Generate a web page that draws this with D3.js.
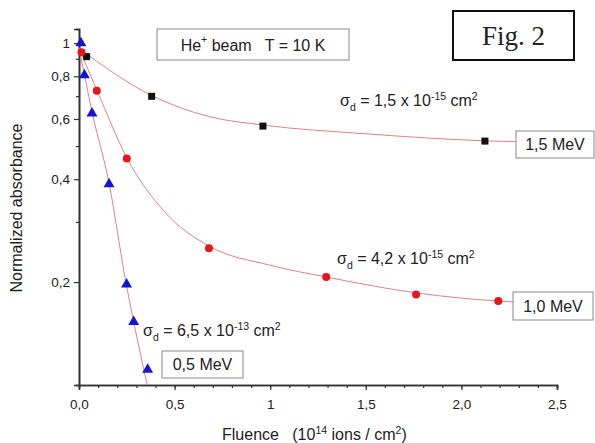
<!DOCTYPE html>
<html>
<head>
<meta charset="utf-8">
<script src="https://cdn.jsdelivr.net/npm/d3@7"></script>
<style>
  body { margin: 0; background: #fff; }
  text { font-family: "Liberation Sans", Arial, sans-serif; fill: #222; white-space: pre; }
</style>
</head>
<body>
<div id="chart"></div>
<script>
// data: [fluence (1e14 ions/cm2), normalized absorbance]
const pts15 = [[0.04, 0.913], [0.38, 0.699], [0.962, 0.572], [2.123, 0.517]];
const pts10 = [[0.013, 0.94], [0.093, 0.726], [0.25, 0.46], [0.68, 0.251], [1.293, 0.207], [1.763, 0.184], [2.193, 0.176]];
const pts05 = [[0.01, 1.0], [0.028, 0.807], [0.068, 0.623], [0.157, 0.387], [0.249, 0.197], [0.286, 0.153], [0.359, 0.111]];

// fitted curves as drawn in the figure
const fit15 = [[0.0, 0.965], [0.38, 0.703], [0.68, 0.61], [0.962, 0.576], [1.5, 0.543], [2.123, 0.518], [2.285, 0.515]];
const fit10 = [[0.0, 0.965], [0.093, 0.73], [0.25, 0.462], [0.45, 0.32], [0.68, 0.255], [1.0, 0.224], [1.293, 0.207], [1.763, 0.186], [2.193, 0.176], [2.27, 0.175]];
const fit05 = [[0.0, 0.97], [0.028, 0.81], [0.068, 0.63], [0.157, 0.39], [0.245, 0.2], [0.286, 0.153], [0.357, 0.1]];

const yMajor = [0.2, 0.4, 0.6, 0.8, 1];
const yMinor = [0.3, 0.5, 0.7, 0.9];
const xMajor = [0, 0.5, 1.0, 1.5, 2.0, 2.5];

const margin = { top: 29, right: 38, bottom: 58, left: 79 };
const width = 595 - margin.left - margin.right;
const height = 443 - margin.top - margin.bottom;

const svg = d3.select("#chart").append("svg")
  .attr("width", 595).attr("height", 443);

const chart = svg.append("g")
  .attr("transform", "translate(" + margin.left + "," + margin.top + ")");

const x = d3.scaleLinear().domain([0, 2.5]).range([0, width]);
const y = d3.scaleLog().domain([0.1, 1.1]).range([height, 0]);
const fmt = (d) => (d === 1 ? "1" : d3.format(".1f")(d).replace(".", ","));

svg.append("clipPath").attr("id", "clip")
  .append("rect").attr("width", width).attr("height", height);

// axes
const xAxis = chart.append("g").attr("transform", "translate(0," + height + ")");
xAxis.call(d3.axisBottom(x).tickValues(d3.range(0, 2.51, 0.1)).tickSize(3).tickFormat(""));
const xMaj = chart.append("g").attr("transform", "translate(0," + height + ")")
  .call(d3.axisBottom(x).tickValues(xMajor).tickSize(5).tickPadding(9).tickFormat(fmt));

const yAxis = chart.append("g")
  .call(d3.axisLeft(y).tickValues(yMinor).tickSize(3).tickFormat(""));
const yMaj = chart.append("g")
  .call(d3.axisLeft(y).tickValues(yMajor).tickSize(5).tickPadding(4).tickFormat(fmt));

[xAxis, xMaj, yAxis, yMaj].forEach((g) => {
  g.select(".domain").attr("stroke", "#333").attr("stroke-width", 1.6);
  g.selectAll(".tick line").attr("stroke", "#333").attr("stroke-width", 1.2);
  g.selectAll("text").style("font-size", "13.5px").attr("fill", "#222")
    .style("font-family", "Liberation Sans, Arial, sans-serif");
});

// fit lines
const line = d3.line().x((d) => x(d[0])).y((d) => y(d[1])).curve(d3.curveMonotoneX);
chart.append("g").attr("clip-path", "url(#clip)")
  .selectAll("path").data([fit15, fit10, fit05]).join("path")
  .attr("d", line)
  .attr("fill", "none")
  .attr("stroke", "#e88080")
  .attr("stroke-width", 1);

// markers
chart.selectAll(".sq").data(pts15).join("rect").attr("class", "sq")
  .attr("x", (d) => x(d[0]) - 3.5).attr("y", (d) => y(d[1]) - 3.5)
  .attr("width", 7).attr("height", 7).attr("fill", "#111");

chart.selectAll(".ci").data(pts10).join("circle").attr("class", "ci")
  .attr("cx", (d) => x(d[0])).attr("cy", (d) => y(d[1]))
  .attr("r", 4).attr("fill", "#e8161c");

const tri = d3.symbol().type(d3.symbolTriangle).size(52);
chart.selectAll(".tr").data(pts05).join("path").attr("class", "tr")
  .attr("transform", (d) => "translate(" + x(d[0]) + "," + y(d[1]) + ")")
  .attr("d", tri).attr("fill", "#1414d4");

// axis titles
svg.append("text")
  .attr("transform", "translate(22,208) rotate(-90)")
  .attr("text-anchor", "middle")
  .style("font-size", "16px")
  .text("Normalized absorbance");

const xt = svg.append("text").attr("x", 222).attr("y", 440).style("font-size", "16px");
xt.append("tspan").text("Fluence   (10");
xt.append("tspan").attr("dy", -6).style("font-size", "10.5px").text("14");
xt.append("tspan").attr("dy", 6).text(" ions / cm");
xt.append("tspan").attr("dy", -6).style("font-size", "10.5px").text("2");
xt.append("tspan").attr("dy", 6).text(")");

// sigma annotations
function sigma(x0, y0, mant, expo) {
  const t = svg.append("text").attr("x", x0).attr("y", y0).style("font-size", "16px");
  t.append("tspan").text("σ");
  t.append("tspan").attr("dy", 5).style("font-size", "10.5px").text("d");
  t.append("tspan").attr("dy", -5).text(" = " + mant + " x 10");
  t.append("tspan").attr("dy", -6).style("font-size", "10.5px").text(expo);
  t.append("tspan").attr("dy", 6).text(" cm");
  t.append("tspan").attr("dy", -6).style("font-size", "10.5px").text("2");
}
sigma(340, 106, "1,5", "-15");
sigma(337, 264, "4,2", "-15");
sigma(143, 336, "6,5", "-13");

// boxed labels
function box(x0, y0, w, h, label, size, color, sw, family) {
  svg.append("rect").attr("x", x0).attr("y", y0).attr("width", w).attr("height", h)
    .attr("fill", "#fff").attr("stroke", color).attr("stroke-width", sw);
  return svg.append("text").attr("x", x0 + w / 2).attr("y", y0 + h / 2)
    .attr("text-anchor", "middle").attr("dominant-baseline", "central")
    .style("font-size", size + "px").style("font-family", family || null)
    .text(label);
}
box(516, 131, 78, 27, "1,5 MeV", 16, "#888", 1);
box(513, 292, 80, 28, "1,0 MeV", 16, "#888", 1);
box(162, 351, 81, 27, "0,5 MeV", 16, "#888", 1);

const he = box(157, 29, 192, 31, "", 16, "#888", 1);
he.append("tspan").text("He");
he.append("tspan").attr("dy", -6).style("font-size", "10.5px").text("+");
he.append("tspan").attr("dy", 6).text(" beam   T = 10 K");

box(453, 11, 121, 49, "Fig. 2", 27, "#111", 2, "Liberation Serif, Times New Roman, serif")
  .attr("fill", "#111");
</script>
</body>
</html>
